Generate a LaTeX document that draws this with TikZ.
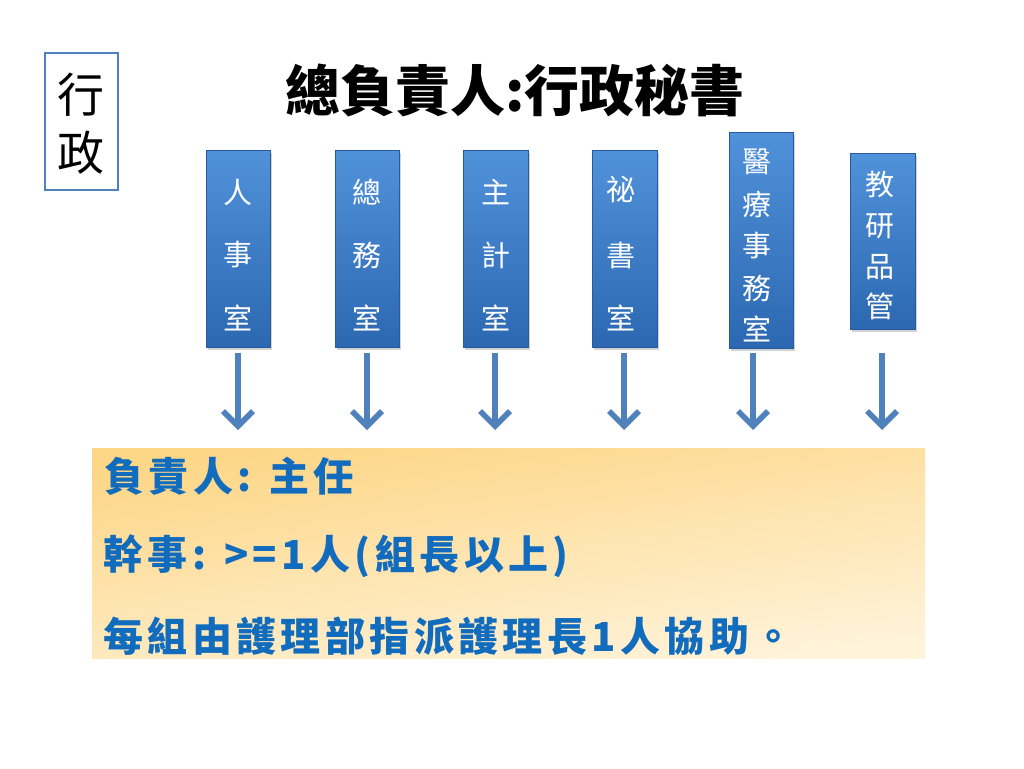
\documentclass[tikz,border=0pt]{standalone}
\usepackage{fontspec}
\setmainfont{Liberation Sans}
\newfontfamily\cjk{Noto Sans CJK TC}
\usetikzlibrary{arrows.meta,shadows}
\definecolor{boxtop}{RGB}{80,146,218}
\definecolor{boxbot}{RGB}{44,104,178}
\definecolor{boxedge}{RGB}{40,90,160}
\definecolor{arrblue}{RGB}{79,129,189}
\definecolor{txtblue}{RGB}{18,108,190}
\definecolor{panelA}{RGB}{253,214,134}
\definecolor{panelB}{RGB}{255,243,218}
\tikzset{
  unit/.style={rectangle, draw=boxedge, line width=0.6pt, top color=boxtop, bottom color=boxbot,
    drop shadow={opacity=0.35, shadow xshift=2pt, shadow yshift=-3pt}, inner sep=0pt},
  unittext/.style={text=white, font=\cjk\fontsize{29}{29}\selectfont, inner sep=0pt},
  arr/.style={draw=arrblue, line width=5.5pt, -{Straight Barb[length=15pt,width=30pt]}},
  paneltext/.style={text=txtblue, inner sep=0pt, anchor=west,
    font=\cjk\bfseries\fontsize{40}{40}\selectfont\addfontfeature{LetterSpace=11}},
}
\begin{document}
\begin{tikzpicture}[x=1pt,y=-1pt]
\useasboundingbox (0,0) rectangle (1024,768);
\fill[white] (0,0) rectangle (1024,768);
% side box
\node[draw=arrblue, line width=2pt, minimum width=73pt, minimum height=137pt, anchor=north west] (side) at (44,52) {};
\node[font=\cjk\fontsize{47}{47}\selectfont, inner sep=0pt] (side1) at (80.5,95) {行};
\node[font=\cjk\fontsize{47}{47}\selectfont, inner sep=0pt] (side2) at (80.5,153) {政};
% title
\node[font=\cjk\bfseries\fontsize{55}{55}\selectfont, inner sep=0pt] (title) at (515,90) {總負責人:行政秘書};
% units
\node[unit, minimum width=64pt, minimum height=197pt, anchor=north west] (b1) at (206,150) {};
\node[unit, minimum width=64pt, minimum height=197pt, anchor=north west] (b2) at (335,150) {};
\node[unit, minimum width=65pt, minimum height=197pt, anchor=north west] (b3) at (463,150) {};
\node[unit, minimum width=65pt, minimum height=197pt, anchor=north west] (b4) at (592,150) {};
\node[unit, minimum width=64pt, minimum height=216pt, anchor=north west] (b5) at (729,132) {};
\node[unit, minimum width=65pt, minimum height=176pt, anchor=north west] (b6) at (850,153) {};
% unit texts
\node[unittext] (t11) at (238,192) {人};
\node[unittext] (t12) at (238,255) {事};
\node[unittext] (t13) at (238,318) {室};
\node[unittext] (t21) at (367,192) {總};
\node[unittext] (t22) at (367,255) {務};
\node[unittext] (t23) at (367,318) {室};
\node[unittext] (t31) at (495.5,192) {主};
\node[unittext] (t32) at (495.5,255) {計};
\node[unittext] (t33) at (495.5,318) {室};
\node[unittext] (t41) at (621,190) {祕};
\node[unittext] (t42) at (621,255) {書};
\node[unittext] (t43) at (621,318) {室};
\node[unittext] (t51) at (757,162) {醫};
\node[unittext] (t52) at (757,204) {療};
\node[unittext] (t53) at (757,246) {事};
\node[unittext] (t54) at (757,288) {務};
\node[unittext] (t55) at (757,329) {室};
\node[unittext] (t61) at (880,185) {教};
\node[unittext] (t62) at (880,226) {研};
\node[unittext] (t63) at (880,267) {品};
\node[unittext] (t64) at (880,306) {管};
% panel
\node[anchor=north west, minimum width=833pt, minimum height=210pt, inner sep=0pt,
  top color=panelA, bottom color=panelB, shading angle=8] (panel) at (92,448) {};
\node[paneltext] (l1) at (104,476) {負責人: 主任};
\node[paneltext] (l2) at (103,556) {幹事: >=1人(組長以上)};
\node[paneltext] (l3) at (103,636) {每組由護理部指派護理長1人協助。};
% arrows
\coordinate (e1) at (238,430);
\coordinate (e2) at (367,430);
\coordinate (e3) at (495,430);
\coordinate (e4) at (624,430);
\coordinate (e5) at (753,430);
\coordinate (e6) at (882,430);
\draw[arr, shorten <=5pt] (b1.south -| e1) -- (e1);
\draw[arr, shorten <=5pt] (b2.south -| e2) -- (e2);
\draw[arr, shorten <=5pt] (b3.south -| e3) -- (e3);
\draw[arr, shorten <=5pt] (b4.south -| e4) -- (e4);
\draw[arr, shorten <=4pt] (b5.south -| e5) -- (e5);
\draw[arr, shorten <=23pt] (b6.south -| e6) -- (e6);
\end{tikzpicture}
\end{document}
